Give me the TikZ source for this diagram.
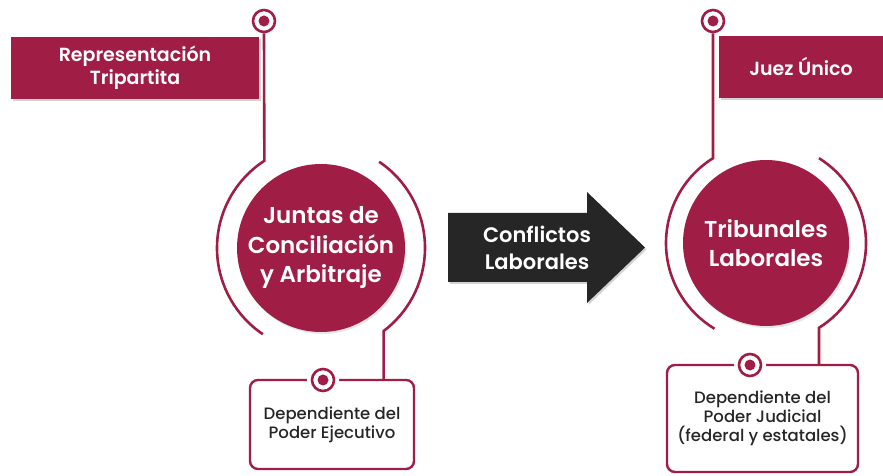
\documentclass[tikz,border=0pt]{standalone}
\usepackage{fontspec}
\setmainfont{Poppins}[BoldFont={* SemiBold}]
\newfontfamily\medfont{Poppins Medium}
\usetikzlibrary{shadows}
\definecolor{guinda}{RGB}{160,30,70}
\definecolor{carbon}{RGB}{38,38,38}
\tikzset{
  redbox/.style={fill=guinda, text=white, align=center, inner sep=0pt,
    font=\bfseries\fontsize{19}{23}\selectfont,
    drop shadow={shadow xshift=1.5pt, shadow yshift=-2pt, opacity=0.35}},
  bigdisc/.style={circle, fill=guinda, text=white, align=center, inner sep=0pt,
    font=\bfseries\fontsize{23}{29.5}\selectfont,
    drop shadow={shadow xshift=1.5pt, shadow yshift=-2pt, opacity=0.2}},
  halo/.style={draw=guinda, line width=2.6pt},
  dotring/.style={circle, draw=guinda, line width=2.6pt, fill=white, minimum size=22pt, inner sep=0pt,
    path picture={\fill[guinda] (path picture bounding box.center) circle (5.5pt);}},
  gapring/.style={dotring, preaction={draw=white, line width=10pt}},
  infobox/.style={draw=guinda, line width=2.4pt, rounded corners=8pt, fill=white, align=center,
    inner sep=0pt, text=black!85, font=\medfont\fontsize{16.5}{19}\selectfont}
}
\begin{document}
\begin{tikzpicture}[x=1pt, y=1pt]
    \useasboundingbox (0,0) rectangle (883,476);
    % left
    \node[redbox, minimum width=248pt, minimum height=62pt] (repL) at (135,408) {Representación\\Tripartita};
    \node[bigdisc, minimum size=168pt] (discL) at (321,228) {Juntas de\\Conciliación\\y Arbitraje};
    \node[infobox, minimum width=164pt, minimum height=89pt] (infoL) at (332,51.5) {Dependiente del\\Poder Ejecutivo};
    \node[dotring] (ringTL) at (264,455) {};
    \node[gapring] (ringBL) at (323,96) {};
    \draw[halo] (ringTL.south) -- ([shift={(123:104)}]discL.center) arc[start angle=123, end angle=236, radius=104];
    \draw[halo] ([shift={(56:104)}]discL.center) arc[start angle=56, end angle=-53, radius=104]
        coordinate (hookL) -- (hookL |- infoL.north);
    % arrow
    \fill[carbon, drop shadow={shadow xshift=1.5pt, shadow yshift=-2pt, opacity=0.35}]
        (448,194) -- (448,263) -- (587,263) -- (587,284) -- (645,228.5) -- (587,173) -- (587,194) -- cycle;
    \node[text=white, align=center, font=\bfseries\fontsize{21}{27}\selectfont] (conflictos) at (537,228.5) {Conflictos\\Laborales};
    % right
    \node[redbox, minimum width=164pt, minimum height=62pt] (juez) at (801,409) {Juez Único};
    \node[bigdisc, minimum size=166pt] (discR) at (766,233) {Tribunales\\Laborales};
    \node[infobox, minimum width=191pt, minimum height=107pt] (infoR) at (762.5,57.5) {Dependiente del\\Poder Judicial\\(federal y estatales)};
    \node[dotring] (ringTR) at (713,455) {};
    \node[gapring] (ringBR) at (750,111) {};
    \draw[halo] (ringTR.south) -- ([shift={(122:100)}]discR.center) arc[start angle=122, end angle=239, radius=100];
    \draw[halo] ([shift={(58:100)}]discR.center) arc[start angle=58, end angle=-58, radius=100]
        coordinate (hookR) -- (hookR |- infoR.north);
\end{tikzpicture}
\end{document}
